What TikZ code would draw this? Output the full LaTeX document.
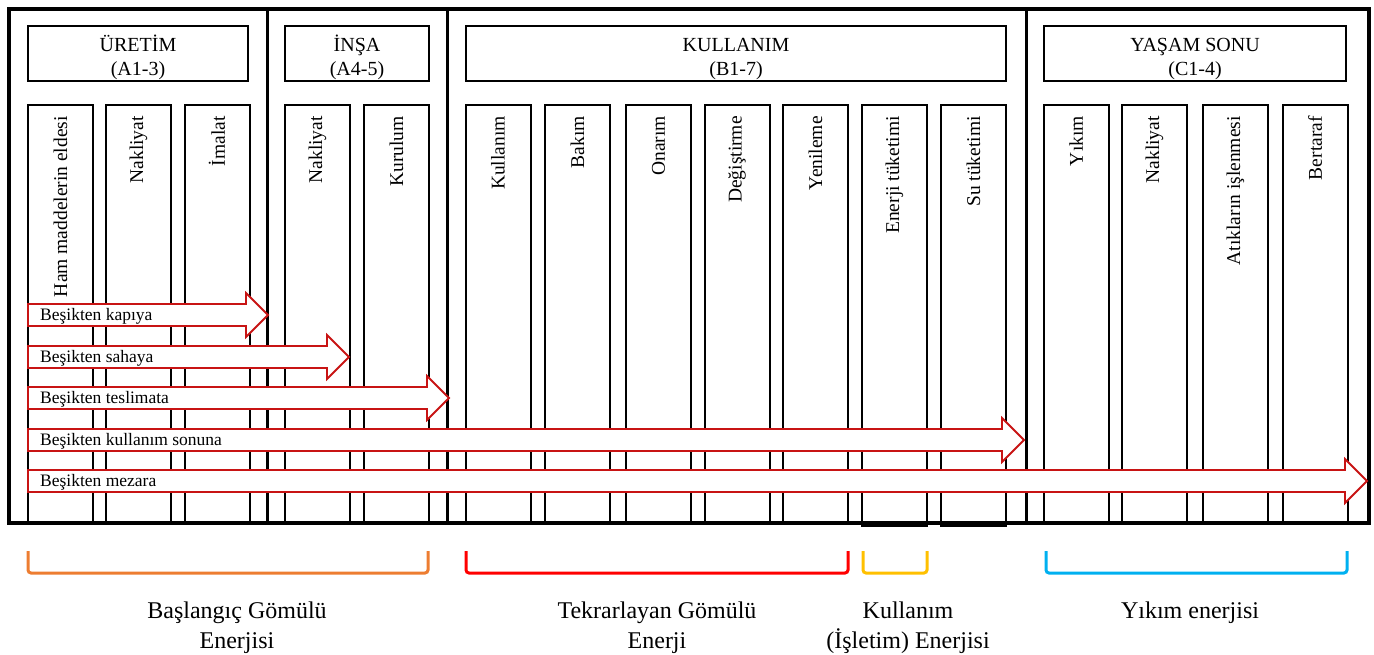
\documentclass[tikz,border=0pt]{standalone}
\usepackage{fontspec}
\setmainfont{Liberation Serif}
\usepackage{xcolor}
\usetikzlibrary{positioning}
\definecolor{arrowred}{RGB}{200,20,20}
\definecolor{brorange}{RGB}{237,125,49}
\definecolor{brred}{RGB}{255,0,0}
\definecolor{brgold}{RGB}{255,192,0}
\definecolor{brblue}{RGB}{0,176,240}

\begin{document}
\begin{tikzpicture}[x=1pt,y=-1pt,
  stagebox/.style={draw,line width=2pt,inner sep=0pt,minimum height=55pt,align=center,font=\fontsize{20}{24}\selectfont},
  colbox/.style={draw,line width=2pt,inner sep=0pt,minimum width=65pt,minimum height=418pt},
  coltext/.style={rotate=90,anchor=east,inner sep=0pt,font=\fontsize{19.5}{22}\selectfont},
  lcarrow/.style={draw=arrowred,fill=white,line width=1.8pt,line join=miter},
  arrowtext/.style={anchor=west,inner sep=0pt,font=\fontsize{17.5}{20}\selectfont},
  bracket/.style={line width=3pt,rounded corners=3pt},
  brtext/.style={align=center,font=\fontsize{24}{30}\selectfont}]
\useasboundingbox (0,0) rectangle (1374,655);

\foreach \n/\xc/\txt in {1/60.5/Ham maddelerin eldesi, 2/138.5/Nakliyat, 3/217/İmalat, 4/317.5/Nakliyat, 5/396.5/Kurulum, 6/498/Kullanım, 7/577.5/Bakım, 8/658.5/Onarım, 9/737/Değiştirme, 10/815.5/Yenileme, 13/1076/Yıkım, 14/1154.5/Nakliyat, 15/1235.5/Atıkların işlenmesi, 16/1315/Bertaraf}
{
  \node[colbox] (c\n) at (\xc,314) {};
  \node[coltext] (t\n) at ([yshift=-12pt]c\n.north) {\txt};
}
\node[colbox,minimum height=421pt] (c11) at (894.5,315.5) {};
\node[coltext] (t11) at ([yshift=-12pt]c11.north) {Enerji tüketimi};
\node[colbox,minimum height=421pt] (c12) at (973.5,315.5) {};
\node[coltext] (t12) at ([yshift=-12pt]c12.north) {Su tüketimi};

\draw[line width=4pt] (9,9) rectangle (1369,523);
\foreach \xd in {267,447,1026}
  \draw[line width=3pt] (\xd,9) -- (\xd,523);

\node[stagebox,minimum width=220pt] (uretim) at (138,53.5) {\rule{0pt}{25pt}ÜRETİM\\(A1-3)};
\node[stagebox,minimum width=144pt] (insa) at (357,53.5) {\rule{0pt}{25pt}İNŞA\\(A4-5)};
\node[stagebox,minimum width=540pt] (kullanim) at (736,53.5) {\rule{0pt}{25pt}KULLANIM\\(B1-7)};
\node[stagebox,minimum width=302pt] (yasam) at (1195,53.5) {\rule{0pt}{25pt}YAŞAM SONU\\(C1-4)};

\foreach \yc/\xt/\txt [count=\i] in {315/268/Beşikten kapıya, 357/349/Beşikten sahaya, 398/449/Beşikten teslimata, 440/1024/Beşikten kullanım sonuna, 481/1367/Beşikten mezara}
{
  \draw[lcarrow] (28,{\yc-11}) -- ({\xt-22},{\yc-11}) -- ({\xt-22},{\yc-22}) -- (\xt,\yc)
    -- ({\xt-22},{\yc+22}) -- ({\xt-22},{\yc+11}) -- (28,{\yc+11}) -- cycle;
  \node[arrowtext] (a\i) at (40,{\yc+1}) {\txt};
}

\draw[bracket,brorange] (28,551) -- (28,573) -- (428,573) -- (428,551);
\draw[bracket,brred] (466,551) -- (466,573) -- (848,573) -- (848,551);
\draw[bracket,brgold] (863,551) -- (863,573) -- (927,573) -- (927,551);
\draw[bracket,brblue] (1046,551) -- (1046,573) -- (1347,573) -- (1347,551);

\node[brtext] (e1) at (237,628) {Başlangıç Gömülü\\Enerjisi};
\node[brtext] (e2) at (657,628) {Tekrarlayan Gömülü\\Enerji};
\node[brtext] (e3) at (908,628) {Kullanım\\(İşletim) Enerjisi};
\node[brtext] (e4) at (1190,613) {Yıkım enerjisi};
\end{tikzpicture}
\end{document}
